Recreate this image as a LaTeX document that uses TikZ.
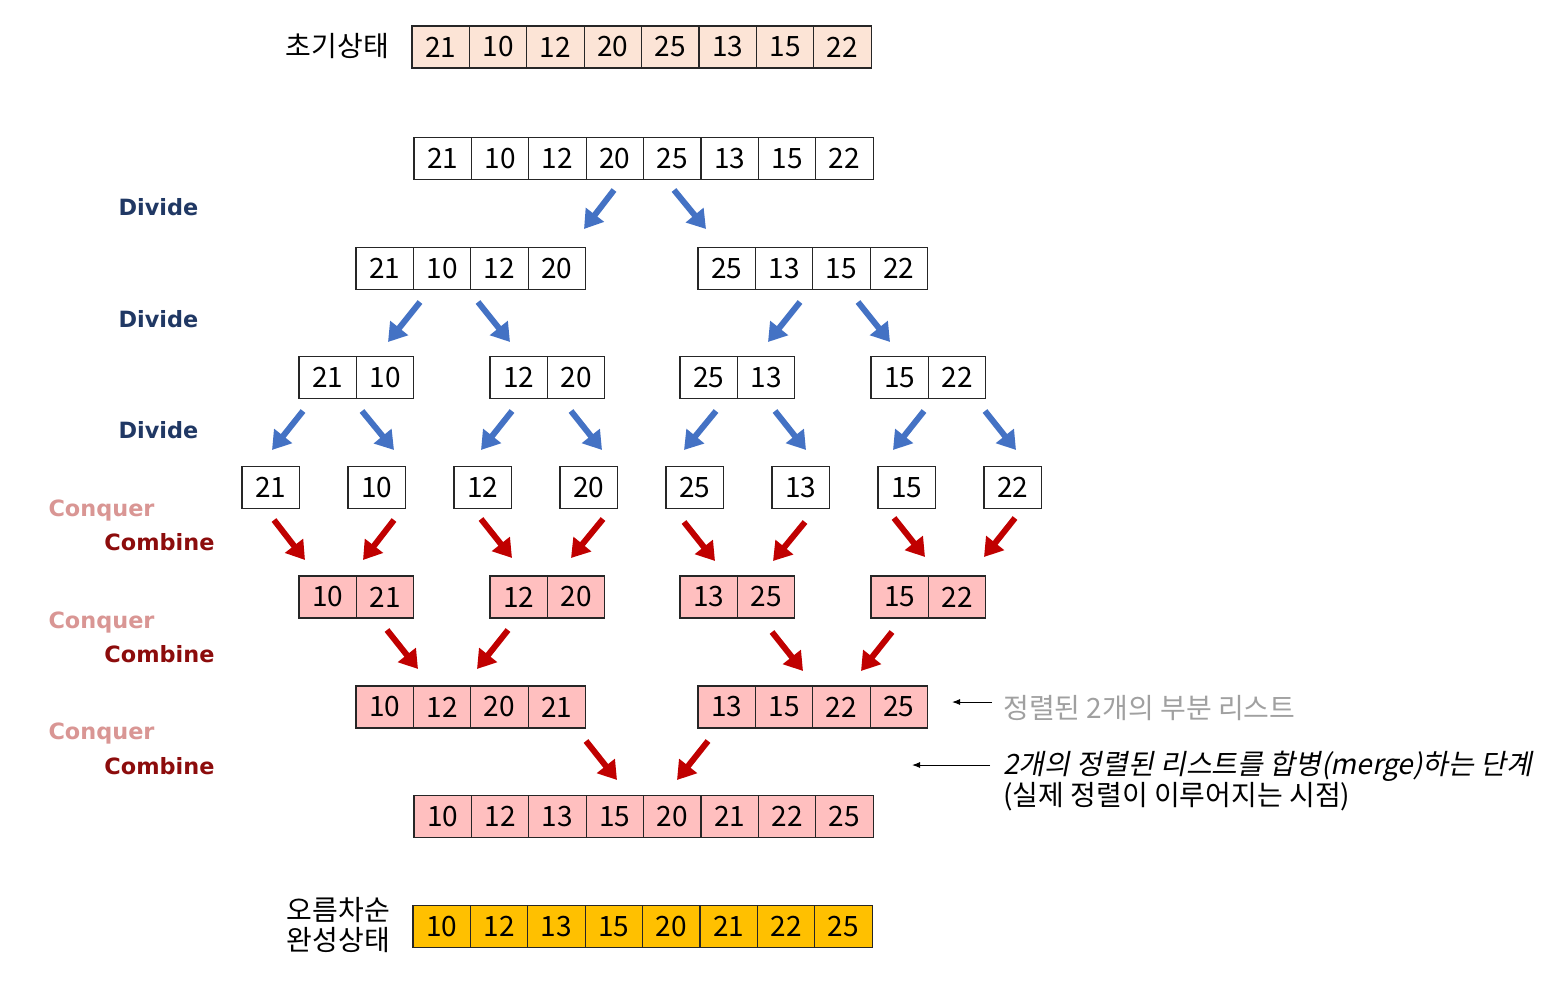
\documentclass[tikz,border=0pt]{standalone}
\usepackage{fontspec}
\setmainfont{Noto Sans CJK KR}
\newfontfamily\krital[FakeSlant=0.2]{Noto Sans CJK KR}
\newfontfamily\lblfont{DejaVu Sans}
\usetikzlibrary{arrows.meta}
\definecolor{peach}{RGB}{252,228,214}
\definecolor{pinkc}{RGB}{255,191,191}
\definecolor{goldc}{RGB}{255,192,0}
\definecolor{arrowblue}{RGB}{68,114,196}
\definecolor{arrowred}{RGB}{192,0,0}
\definecolor{divcol}{RGB}{32,56,100}
\definecolor{conqcol}{RGB}{217,150,148}
\definecolor{combcol}{RGB}{140,12,12}
\definecolor{anngray}{RGB}{160,160,160}
\newcommand\cellrow[5]{\foreach \v [count=\i] in {#5} \node[cellbox,fill=#4] (#1\i) at ({#2+57.4*(\i-0.5)},#3) {\v};}
\tikzset{
  cellbox/.style={draw=black!85, line width=0.6pt, minimum width=28.7pt, minimum height=21pt, inner sep=0pt, font=\fontsize{14}{14}\selectfont},
  barrow/.style={draw=arrowblue, line width=3pt, -{Triangle[length=9pt,width=11pt]}},
  rarrow/.style={draw=arrowred, line width=3pt, -{Triangle[length=9pt,width=11pt]}},
  thinarrow/.style={draw=black, line width=0.5pt, -{Latex[length=4pt,width=3pt]}},
  divlbl/.style={font=\lblfont\bfseries\fontsize{11.2}{12}\selectfont, text=divcol, inner sep=0pt},
  conqlbl/.style={font=\lblfont\bfseries\fontsize{11.2}{12}\selectfont, text=conqcol, inner sep=0pt},
  comblbl/.style={font=\lblfont\bfseries\fontsize{11.2}{12}\selectfont, text=combcol, inner sep=0pt},
  krlbl/.style={font=\fontsize{14}{15}\selectfont, inner sep=0pt, align=center},
  annlbl/.style={font=\fontsize{14}{15.5}\selectfont, inner sep=0pt, anchor=west, align=left}
}
\begin{document}
\begin{tikzpicture}[x=0.5pt,y=-0.5pt]
\useasboundingbox (0,0) rectangle (1547,1002);
% rows
\cellrow{r0c}{412}{47}{peach}{21,10,12,20,25,13,15,22}
\cellrow{r1c}{414}{158.5}{white}{21,10,12,20,25,13,15,22}
\cellrow{r2a}{356}{268.5}{white}{21,10,12,20}
\cellrow{r2b}{698}{268.5}{white}{25,13,15,22}
\cellrow{r3a}{299}{377.5}{white}{21,10}
\cellrow{r3b}{490}{377.5}{white}{12,20}
\cellrow{r3c}{680}{377.5}{white}{25,13}
\cellrow{r3d}{871}{377.5}{white}{15,22}
\cellrow{r4a}{242}{487.5}{white}{21}
\cellrow{r4b}{348}{487.5}{white}{10}
\cellrow{r4c}{454}{487.5}{white}{12}
\cellrow{r4d}{560}{487.5}{white}{20}
\cellrow{r4e}{666}{487.5}{white}{25}
\cellrow{r4f}{772}{487.5}{white}{13}
\cellrow{r4g}{878}{487.5}{white}{15}
\cellrow{r4h}{984}{487.5}{white}{22}
\cellrow{r5a}{299}{597}{pinkc}{10,21}
\cellrow{r5b}{490}{597}{pinkc}{12,20}
\cellrow{r5c}{680}{597}{pinkc}{13,25}
\cellrow{r5d}{871}{597}{pinkc}{15,22}
\cellrow{r6a}{356}{707}{pinkc}{10,12,20,21}
\cellrow{r6b}{698}{707}{pinkc}{13,15,22,25}
\cellrow{r7c}{414}{816.5}{pinkc}{10,12,13,15,20,21,22,25}
\cellrow{r8c}{413}{926.5}{goldc}{10,12,13,15,20,21,22,25}
% left labels
\node[krlbl] (init) at (337.5,46) {초기상태};
\node[krlbl] (final) at (338.5,925) {오름차순\\완성상태};
\node[divlbl] (d1) at (158.5,207) {Divide};
\node[divlbl] (d2) at (158.5,319) {Divide};
\node[divlbl] (d3) at (158.5,430) {Divide};
\node[conqlbl] (q1) at (101.5,511) {Conquer};
\node[comblbl] (c1) at (159.5,542) {Combine};
\node[conqlbl] (q2) at (101.5,623) {Conquer};
\node[comblbl] (c2) at (159.5,654) {Combine};
\node[conqlbl] (q3) at (101.5,734) {Conquer};
\node[comblbl] (c3) at (159.5,766) {Combine};
% blue arrows
\draw[barrow] (614,190) -- (584,229);
\draw[barrow] (674,190) -- (706,229);
\draw[barrow] (420,302) -- (388,342);
\draw[barrow] (478,302) -- (510,342);
\draw[barrow] (800,302) -- (768,342);
\draw[barrow] (858,302) -- (890,342);
\draw[barrow] (303,411) -- (272,450);
\draw[barrow] (362,411) -- (394,450);
\draw[barrow] (512,411) -- (481,450);
\draw[barrow] (571,411) -- (602,450);
\draw[barrow] (716,411) -- (684,450);
\draw[barrow] (775,411) -- (806,450);
\draw[barrow] (924,411) -- (893,450);
\draw[barrow] (985,411) -- (1016,450);
% red arrows
\draw[rarrow] (274,520) -- (305,560);
\draw[rarrow] (394,520) -- (363,560);
\draw[rarrow] (481,519) -- (512,558);
\draw[rarrow] (603,519) -- (571,558);
\draw[rarrow] (684,522) -- (715,561);
\draw[rarrow] (805,522) -- (773,561);
\draw[rarrow] (894,518) -- (925,557);
\draw[rarrow] (1015,518) -- (984,557);
\draw[rarrow] (387,630) -- (418,669);
\draw[rarrow] (508,630) -- (477,669);
\draw[rarrow] (772,632) -- (803,671);
\draw[rarrow] (892,632) -- (861,671);
\draw[rarrow] (586,741) -- (617,780);
\draw[rarrow] (708,741) -- (677,780);
% annotations
\node[annlbl, text=anngray] (ann1) at (1003,708) {정렬된 2개의 부분 리스트};
\node[annlbl, anchor=north west] (ann2) at (1003,751) {{\krital 2개의 정렬된 리스트를 합병(merge)하는 단계}\\(실제 정렬이 이루어지는 시점)};
\coordinate (a1s) at (992,702);
\coordinate (a1e) at (952,702);
\coordinate (a2s) at (990,765);
\coordinate (a2e) at (912,765);
\draw[thinarrow] (a1s) -- (a1e);
\draw[thinarrow] (a2s) -- (a2e);
\end{tikzpicture}
\end{document}
